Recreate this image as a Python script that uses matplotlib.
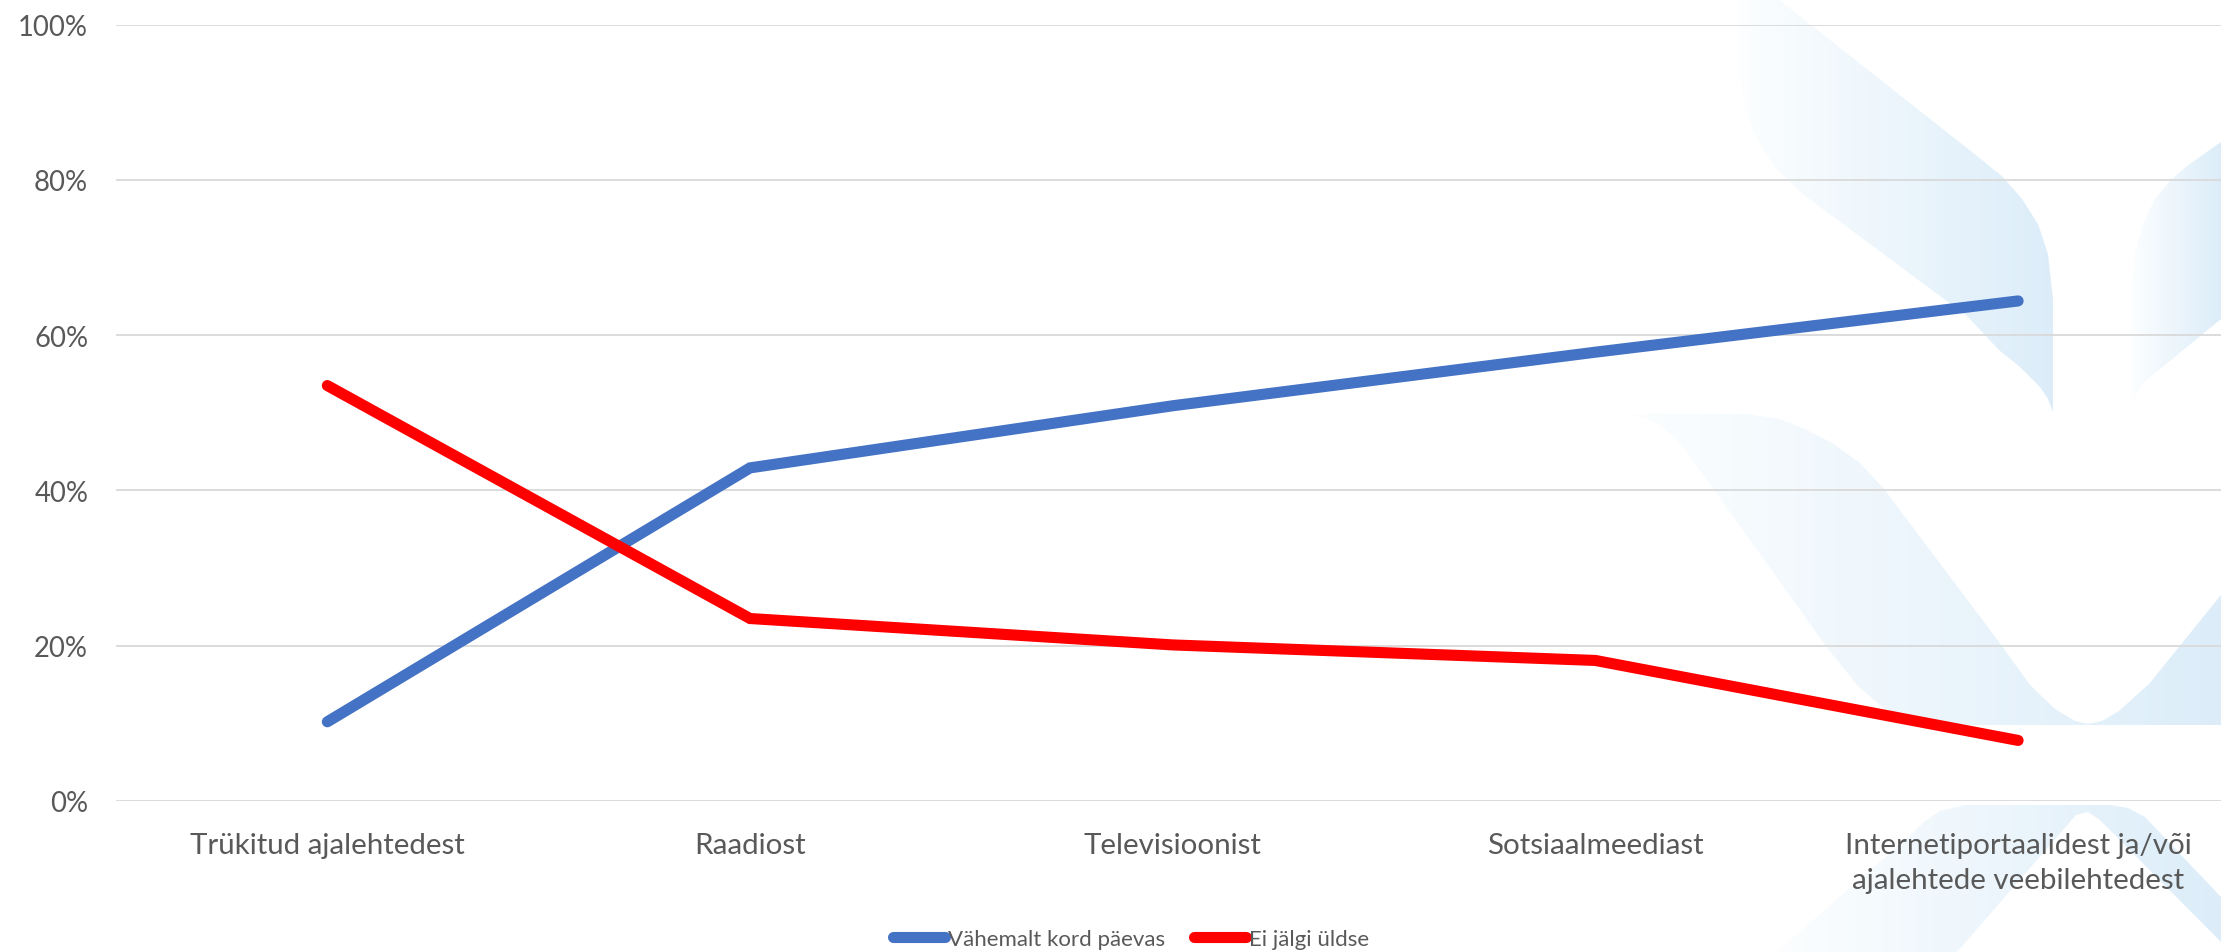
import matplotlib
matplotlib.use("Agg")
import matplotlib.pyplot as plt
import numpy as np
from matplotlib.path import Path
from matplotlib.patches import PathPatch
from matplotlib.colors import LinearSegmentedColormap
from matplotlib.lines import Line2D

# ---- data ----
categories = ["Trükitud ajalehtedest", "Raadiost", "Televisioonist", "Sotsiaalmeediast",
              "Internetiportaalidest ja/või\najalehtede veebilehtedest"]
daily = [10.2, 42.9, 50.9, 57.8, 64.4]          # Vähemalt kord päevas (%)
never = [53.5, 23.5, 20.1, 18.1, 7.8]           # Ei jälgi üldse (%)
series_names = ["Vähemalt kord päevas", "Ei jälgi üldse"]
yticks = [0, 20, 40, 60, 80, 100]
ytick_labels = ["0%", "20%", "40%", "60%", "80%", "100%"]

W, H = 2221, 953
fig = plt.figure(figsize=(W / 100, H / 100), dpi=100)
fig.patch.set_facecolor("white")

FONT = "Lato"
TXT = "#595959"

renderer = fig.canvas.get_renderer()


def fit_size(text, target_px, base=20.0):
    t = fig.text(0, 0, text, family=FONT, size=base)
    w = t.get_window_extent(renderer).width
    t.remove()
    return base * target_px / w


y_size = fit_size("100%", 70)
x_size = 0.5 * (fit_size("Trükitud ajalehtedest", 276) +
                fit_size("Internetiportaalidest ja/või", 347))
leg_size = fit_size("Vähemalt kord päevas", 217)

# ---- background watermark (pixel coordinates) ----
bg = fig.add_axes([0, 0, 1, 1], zorder=0)
bg.set_xlim(0, W)
bg.set_ylim(H, 0)
bg.axis("off")
cmap = LinearSegmentedColormap.from_list("wm", ["#fcfeff", "#dcedf9"])

shapes = [
    [(1740, 0), (1778, 0), (1977, 157), (2003, 178), (2022, 200), (2038, 225), (2048, 255),
     (2053, 300), (2053, 413), (2048, 400), (2040, 388), (2020, 368), (2000, 352),
     (1967, 317), (1800, 193), (1775, 168), (1757, 140), (1745, 110), (1741, 85), (1740, 67)],
    [(1627, 415), (1747, 415), (1780, 420), (1807, 431), (1832, 444), (1860, 464), (1884, 490),
     (1999, 643), (2030, 686), (2055, 710), (2075, 722), (2088, 725), (2102, 722), (2119, 712),
     (2149, 685), (2221, 596), (2221, 726), (1918, 726), (1900, 721), (1882, 708), (1858, 687),
     (1828, 650), (1687, 453), (1675, 438), (1661, 427), (1645, 419)],
    [(2132, 405), (2132, 290), (2135, 255), (2143, 225), (2155, 200), (2170, 182), (2187, 167),
     (2221, 143), (2221, 320), (2160, 370), (2145, 382), (2136, 394)],
    [(1777, 953), (1914, 833), (1925, 822), (1940, 812), (1965, 806), (2110, 806),
     (2128, 809), (2145, 818), (2221, 898), (2221, 943), (2100, 821), (2088, 813),
     (2076, 816), (1957, 953)],
]
for pts in shapes:
    pts = np.array(pts, dtype=float)
    path = Path(np.vstack([pts, pts[:1]]), closed=True)
    patch = PathPatch(path, facecolor="none", edgecolor="none")
    bg.add_patch(patch)
    x0, x1 = pts[:, 0].min(), pts[:, 0].max()
    y0, y1 = pts[:, 1].min(), pts[:, 1].max()
    grad = np.linspace(0, 1, 256).reshape(1, -1)
    im = bg.imshow(grad, extent=[x0, x1, y1, y0], cmap=cmap, aspect="auto",
                   interpolation="bilinear", zorder=0)
    im.set_clip_path(patch)
bg.set_xlim(0, W)
bg.set_ylim(H, 0)

# ---- main axes ----
left = 116 / W
bottom = 1 - 802 / H
top = 1 - 25.5 / H
ax = fig.add_axes([left, bottom, 1 - left, top - bottom], zorder=1)
ax.patch.set_alpha(0)
x = np.arange(len(categories))
ax.set_xlim(-0.5, 4.48)
ax.set_ylim(0, 100)

LW = 8
ax.plot(x, daily, color="#4472C4", lw=LW, solid_capstyle="round", solid_joinstyle="miter",
        label=series_names[0], zorder=3, clip_on=False)
ax.plot(x, never, color="#FF0000", lw=LW, solid_capstyle="round", solid_joinstyle="miter",
        label=series_names[1], zorder=3, clip_on=False)

ax.set_yticks(yticks)
ax.set_yticklabels(ytick_labels)
ax.set_xticks(x)
ax.set_xticklabels(categories)
ax.yaxis.grid(True, color="#d9d9d9", lw=1.3)
ax.set_axisbelow(True)
for s in ax.spines.values():
    s.set_visible(False)
ax.tick_params(axis="both", length=0)
ax.tick_params(axis="y", pad=20, labelsize=y_size, labelcolor=TXT)
ax.tick_params(axis="x", pad=22, labelsize=x_size, labelcolor=TXT)
for lab in ax.get_xticklabels() + ax.get_yticklabels():
    lab.set_family(FONT)
for lab in ax.get_xticklabels():
    lab.set_linespacing(1.45)

handles = [Line2D([0], [0], color="#4472C4", lw=LW, solid_capstyle="round"),
           Line2D([0], [0], color="#FF0000", lw=LW, solid_capstyle="round")]
hl = 52 / (leg_size * 100 / 72)
leg = fig.legend(handles, series_names, loc="center", bbox_to_anchor=(1131 / W, 1 - 940 / H),
                 ncol=2, frameon=False, handlelength=hl, handletextpad=0.12,
                 columnspacing=1.3, prop={"family": FONT, "size": leg_size})
for t in leg.get_texts():
    t.set_color(TXT)

fig.savefig("out.png", dpi=100, facecolor="white")
